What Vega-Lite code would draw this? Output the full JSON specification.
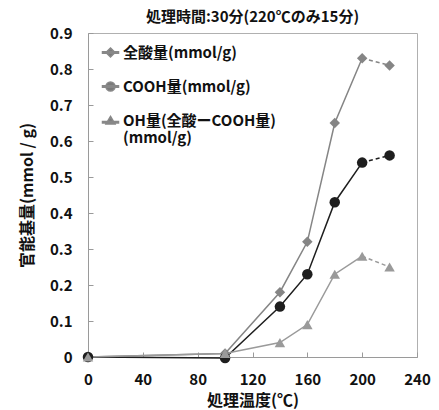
{
  "$schema": "https://vega.github.io/schema/vega-lite/v6.json",
  "autosize": "none",
  "width": 329,
  "height": 324,
  "padding": {"left": 88, "top": 33, "right": 22, "bottom": 53},
  "background": "white",
  "config": {
    "font": "Noto Sans CJK JP",
    "view": {"stroke": "#b0b0b0", "strokeWidth": 1},
    "axis": {"labelFont": "Noto Sans CJK JP", "titleFont": "Noto Sans CJK JP", "labelFontWeight": "bold", "titleFontWeight": "bold", "labelColor": "#111", "titleColor": "#111", "labelFontSize": 15, "titleFontSize": 16, "grid": false, "domainColor": "#9a9a9a", "tickColor": "#9a9a9a", "labelFlush": false}
  },
  "title": {"text": "処理時間:30分(220℃のみ15分)", "fontSize": 15, "fontWeight": "bold", "color": "#111", "offset": 1, "font": "Noto Sans CJK JP"},
  "data": {"values": [
    {"s": "全酸量(mmol/g)", "t": 0, "v": 0},
    {"s": "全酸量(mmol/g)", "t": 100, "v": 0.01},
    {"s": "全酸量(mmol/g)", "t": 140, "v": 0.18},
    {"s": "全酸量(mmol/g)", "t": 160, "v": 0.32},
    {"s": "全酸量(mmol/g)", "t": 180, "v": 0.65},
    {"s": "全酸量(mmol/g)", "t": 200, "v": 0.83},
    {"s": "全酸量(mmol/g)", "t": 220, "v": 0.81},
    {"s": "COOH量(mmol/g)", "t": 0, "v": 0},
    {"s": "COOH量(mmol/g)", "t": 100, "v": -0.003},
    {"s": "COOH量(mmol/g)", "t": 140, "v": 0.14},
    {"s": "COOH量(mmol/g)", "t": 160, "v": 0.23},
    {"s": "COOH量(mmol/g)", "t": 180, "v": 0.43},
    {"s": "COOH量(mmol/g)", "t": 200, "v": 0.54},
    {"s": "COOH量(mmol/g)", "t": 220, "v": 0.56},
    {"s": "OH量(全酸ーCOOH量)|(mmol/g)", "t": 0, "v": 0},
    {"s": "OH量(全酸ーCOOH量)|(mmol/g)", "t": 100, "v": 0.01},
    {"s": "OH量(全酸ーCOOH量)|(mmol/g)", "t": 140, "v": 0.04},
    {"s": "OH量(全酸ーCOOH量)|(mmol/g)", "t": 160, "v": 0.09},
    {"s": "OH量(全酸ーCOOH量)|(mmol/g)", "t": 180, "v": 0.23},
    {"s": "OH量(全酸ーCOOH量)|(mmol/g)", "t": 200, "v": 0.28},
    {"s": "OH量(全酸ーCOOH量)|(mmol/g)", "t": 220, "v": 0.25}
  ]},
  "encoding": {
    "x": {"field": "t", "type": "quantitative", "scale": {"domain": [0, 240], "nice": false},
      "axis": {"values": [0, 40, 80, 120, 160, 200, 240], "title": "処理温度(℃)", "tickSize": -5, "labelPadding": 20, "titlePadding": 5}},
    "y": {"field": "v", "type": "quantitative", "scale": {"domain": [0, 0.9], "nice": false},
      "axis": {"values": [0, 0.1, 0.2, 0.3, 0.4, 0.5, 0.6, 0.7, 0.8, 0.9], "labelExpr": "datum.value == 0 ? '0' : format(datum.value, '.1f')", "title": "官能基量(mmol / g)", "tickSize": -5, "labelPadding": 21, "titlePadding": 14}},
    "color": {"field": "s", "type": "nominal", "scale": {"domain": ["全酸量(mmol/g)", "COOH量(mmol/g)", "OH量(全酸ーCOOH量)|(mmol/g)"], "range": ["#858585", "#1e1e1e", "#9a9a9a"]}, "legend": null}
  },
  "layer": [
    {"transform": [{"filter": "datum.t <= 200"}], "mark": {"type": "line", "strokeWidth": 1.5}, "encoding": {"detail": {"field": "s"}}},
    {"transform": [{"filter": "datum.t >= 200"}], "mark": {"type": "line", "strokeWidth": 1.5, "strokeDash": [4, 3]}, "encoding": {"detail": {"field": "s"}}},
    {"mark": {"type": "point", "filled": true, "opacity": 1, "size": 110},
      "encoding": {
        "shape": {"field": "s", "type": "nominal", "legend": null, "scale": {"domain": ["全酸量(mmol/g)", "COOH量(mmol/g)", "OH量(全酸ーCOOH量)|(mmol/g)"], "range": ["diamond", "circle", "triangle-up"]}}
      }
    },
    {"transform": [{"filter": "false"}], "mark": {"type": "point", "filled": true, "opacity": 1, "size": 100},
      "encoding": {
        "shape": {"field": "s", "type": "nominal",
          "scale": {"domain": ["全酸量(mmol/g)", "COOH量(mmol/g)", "OH量(全酸ーCOOH量)|(mmol/g)"], "range": ["M-1.6,-0.15H1.6V0.15H-1.6Z M0,-0.9L0.9,0L0,0.9L-0.9,0Z", "M-1.6,-0.15H1.6V0.15H-1.6Z M-0.9,0A0.9,0.9 0 1,1 0.9,0A0.9,0.9 0 1,1 -0.9,0Z", "M-1.6,0.2H1.6V0.5H-1.6Z M0,-0.8L0.9,0.7L-0.9,0.7Z"]},
          "legend": {"title": null, "orient": "none", "legendX": 15, "legendY": 12, "labelFontSize": 15, "labelFontWeight": "bold", "labelColor": "#111", "labelFont": "Noto Sans CJK JP", "rowPadding": 18, "symbolSize": 100, "labelOffset": 5, "labelLimit": 300, "symbolOpacity": 1, "symbolFillColor": "#7a7a7a",
            "labelExpr": "split(datum.label, '|')"}
        }
      }
    }
  ],
  "resolve": {"scale": {"shape": "independent"}}
}
